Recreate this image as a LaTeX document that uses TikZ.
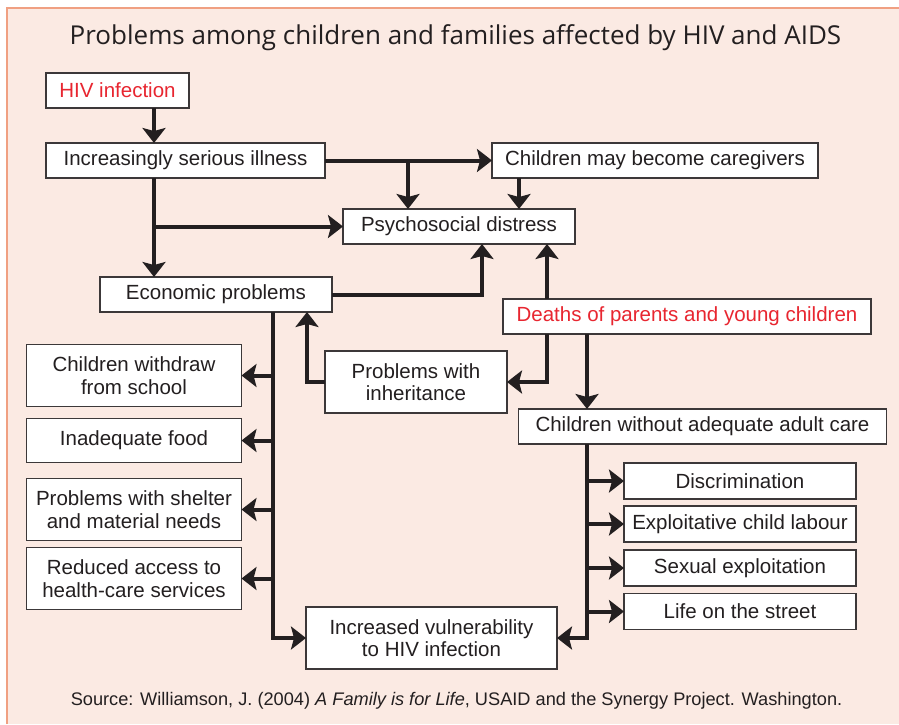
\documentclass[tikz,border=0pt]{standalone}
\usepackage{fontspec}
\setmainfont{Liberation Sans}
\newfontfamily\titlefont{Open Sans}
\usetikzlibrary{arrows.meta}
\definecolor{ink}{RGB}{35,31,32}
\definecolor{boxline}{RGB}{60,56,57}
\definecolor{hivred}{RGB}{232,38,48}
\definecolor{bgpink}{RGB}{251,234,227}
\definecolor{salmon}{RGB}{240,160,130}
\begin{document}
\begin{tikzpicture}[x=1pt,y=-1pt,
  box/.style={draw=boxline, line width=1.3pt, fill=white, inner sep=0pt, outer sep=0pt,
    anchor=north west, align=center, text=ink, font=\fontsize{20.5}{22.5}\selectfont},
  conn/.style={draw=ink, line width=4pt, line cap=butt, line join=miter},
  arr/.style={conn, -{Stealth[length=15pt,width=23pt,inset=3pt]}}]
\useasboundingbox (0,0) rectangle (899,724);
\fill[bgpink] (7,8) rectangle (899,724);
\draw[salmon, line width=1.5pt] (7,724) -- (7,8) -- (899,8);

\node[anchor=base, text=ink, font=\titlefont\fontsize{26}{30}\selectfont] (title) at (455.5,44)
  {Problems among children and families affected by HIV and AIDS};

% boxes
\node[box, minimum width=143pt, minimum height=35pt, text=hivred] (hiv) at (46,73) {HIV infection};
\node[box, minimum width=279pt, minimum height=35pt] (ill) at (46,143) {Increasingly serious illness};
\node[box, minimum width=326pt, minimum height=35pt] (care) at (492,143) {Children may become caregivers};
\node[box, minimum width=232pt, minimum height=35pt] (psy) at (343,209) {Psychosocial distress};
\node[box, minimum width=232pt, minimum height=35pt] (eco) at (100,277) {Economic problems};
\node[box, minimum width=368pt, minimum height=35pt, text=hivred] (dea) at (503,299) {Deaths of parents and young children};
\node[box, minimum width=182pt, minimum height=62pt] (inh) at (325,351) {Problems with\\inheritance};
\node[box, minimum width=368pt, minimum height=35pt] (cwc) at (518.5,409) {Children without adequate adult care};
\node[box, minimum width=215pt, minimum height=62pt] (wd) at (26.5,344.5) {Children withdraw\\from school};
\node[box, minimum width=215pt, minimum height=44pt] (food) at (26.5,418.5) {Inadequate food};
\node[box, minimum width=215pt, minimum height=62pt] (shel) at (26.5,478.5) {Problems with shelter\\and material needs};
\node[box, minimum width=215pt, minimum height=62pt] (red) at (26.5,547.5) {Reduced access to\\health-care services};
\node[box, minimum width=251pt, minimum height=62pt] (vul) at (306,607) {Increased vulnerability\\to HIV infection};
\node[box, minimum width=232pt, minimum height=36pt] (dis) at (624,463) {Discrimination};
\node[box, minimum width=232pt, minimum height=36pt] (exl) at (624,506) {Exploitative child labour};
\node[box, minimum width=232pt, minimum height=36pt] (sex) at (624,550) {Sexual exploitation};
\node[box, minimum width=232pt, minimum height=36pt] (str) at (624,593.5) {Life on the street};

\node[anchor=base, text=ink, font=\fontsize{18.2}{20}\selectfont] (src) at (456.5,705)
  {Source: Williamson, J. (2004) \textit{A Family is for Life}, USAID and the Synergy Project. Washington.};

% bus coordinates
\coordinate (xa) at (154,0);
\coordinate (xb) at (408,0);
\coordinate (xc) at (519,0);
\coordinate (xd) at (482,0);
\coordinate (xe) at (547,0);
\coordinate (xf) at (587,0);
\coordinate (xg) at (307,0);
\coordinate (xh) at (273,0);

% connectors
\draw[arr] (hiv.south -| xa) -- (ill.north -| xa);
\draw[arr] (ill.east) -- (care.west);
\draw[arr] (ill.east -| xb) -- (psy.north -| xb);
\draw[arr] (care.south -| xc) -- (psy.north -| xc);
\draw[arr] (ill.south -| xa) -- (eco.north -| xa);
\draw[arr] (xa |- psy.west) -- (psy.west);
\draw[arr] (eco.east) -| (psy.south -| xd);
\draw[arr] (dea.north -| xe) -- (psy.south -| xe);
\draw[arr] (dea.south -| xe) |- (inh.east);
\draw[arr] (dea.south -| xf) -- (cwc.north -| xf);
\draw[arr] (inh.west) -| (eco.south -| xg);
\draw[arr] (eco.south -| xh) |- (vul.west);
\draw[arr] (xh |- wd.east) -- (wd.east);
\draw[arr] (xh |- food.east) -- (food.east);
\draw[arr] (xh |- shel.east) -- (shel.east);
\draw[arr] (xh |- red.east) -- (red.east);
\draw[arr] (cwc.south -| xf) |- (vul.east);
\draw[arr] (xf |- dis.west) -- (dis.west);
\draw[arr] (xf |- exl.west) -- (exl.west);
\draw[arr] (xf |- sex.west) -- (sex.west);
\draw[arr] (xf |- str.west) -- (str.west);
\end{tikzpicture}
\end{document}
